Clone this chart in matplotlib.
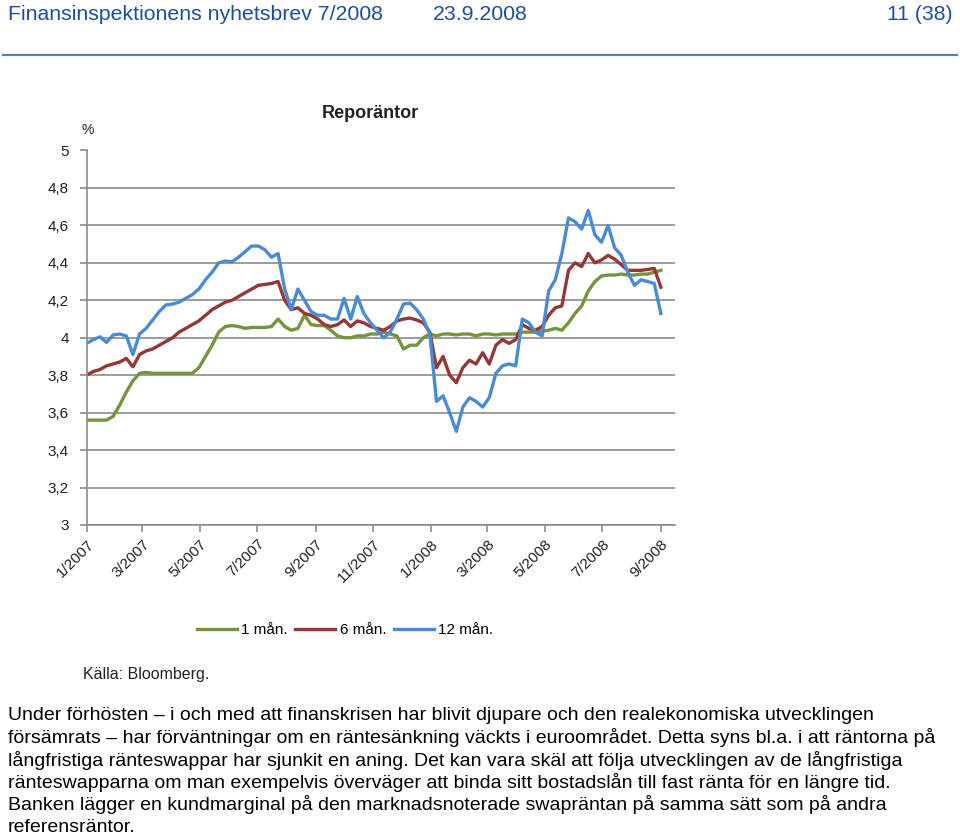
import numpy as np
import pandas as pd
import matplotlib
matplotlib.use("Agg")
import matplotlib.pyplot as plt
import matplotlib.dates as mdates
from matplotlib.ticker import FixedLocator, FuncFormatter

plt.rcParams['font.family'] = ['Liberation Sans', 'DejaVu Sans']

# Veckovisa observationer, jan 2007 - sep 2008
datum = pd.date_range('2007-01-01', periods=88, freq='7D')

man_1 = [3.56, 3.56, 3.56, 3.56, 3.58, 3.64, 3.71, 3.77, 3.81, 3.815,
         3.81, 3.81, 3.81, 3.81, 3.81, 3.81, 3.81, 3.84, 3.90, 3.96,
         4.03, 4.06, 4.065, 4.06, 4.05, 4.055, 4.055, 4.055, 4.06, 4.10,
         4.06, 4.04, 4.05, 4.12, 4.07, 4.065, 4.065, 4.04, 4.01, 4.00,
         4.00, 4.01, 4.01, 4.02, 4.02, 4.03, 4.02, 4.01, 3.94, 3.96,
         3.96, 4.00, 4.02, 4.01, 4.02, 4.02, 4.015, 4.02, 4.02, 4.01,
         4.02, 4.02, 4.015, 4.02, 4.02, 4.02, 4.03, 4.03, 4.03, 4.035,
         4.04, 4.05, 4.04, 4.08, 4.13, 4.17, 4.25, 4.30, 4.33, 4.335,
         4.335, 4.34, 4.335, 4.335, 4.34, 4.34, 4.35, 4.36]

man_6 = [3.80, 3.82, 3.83, 3.85, 3.86, 3.87, 3.89, 3.845, 3.91, 3.93,
         3.94, 3.96, 3.98, 4.00, 4.03, 4.05, 4.07, 4.09, 4.12, 4.15,
         4.17, 4.19, 4.20, 4.22, 4.24, 4.26, 4.28, 4.285, 4.29, 4.30,
         4.20, 4.15, 4.16, 4.13, 4.12, 4.10, 4.07, 4.06, 4.07, 4.095,
         4.06, 4.09, 4.08, 4.06, 4.05, 4.04, 4.06, 4.09, 4.10, 4.105,
         4.095, 4.08, 4.03, 3.84, 3.90, 3.80, 3.76, 3.84, 3.88, 3.86,
         3.92, 3.86, 3.96, 3.99, 3.97, 3.99, 4.07, 4.05, 4.04, 4.06,
         4.12, 4.16, 4.17, 4.36, 4.40, 4.38, 4.45, 4.40, 4.415, 4.44,
         4.42, 4.39, 4.36, 4.36, 4.36, 4.365, 4.37, 4.27]

man_12 = [3.97, 3.99, 4.005, 3.975, 4.015, 4.02, 4.01, 3.91, 4.02, 4.05,
          4.095, 4.14, 4.175, 4.18, 4.19, 4.21, 4.23, 4.26, 4.31, 4.35,
          4.40, 4.41, 4.405, 4.43, 4.46, 4.49, 4.49, 4.47, 4.43, 4.45,
          4.26, 4.15, 4.26, 4.20, 4.14, 4.12, 4.12, 4.10, 4.10, 4.21,
          4.10, 4.22, 4.13, 4.08, 4.04, 4.00, 4.03, 4.10, 4.18, 4.185,
          4.15, 4.10, 4.02, 3.66, 3.69, 3.60, 3.50, 3.63, 3.68, 3.66,
          3.63, 3.68, 3.81, 3.85, 3.86, 3.85, 4.10, 4.08, 4.03, 4.01,
          4.25, 4.31, 4.45, 4.64, 4.62, 4.58, 4.68, 4.55, 4.51, 4.60,
          4.48, 4.44, 4.35, 4.28, 4.31, 4.30, 4.29, 4.13]

y_ticks = [3.0, 3.2, 3.4, 3.6, 3.8, 4.0, 4.2, 4.4, 4.6, 4.8, 5.0]

text_rader = [
    "Under förhösten – i och med att finanskrisen har blivit djupare och den realekonomiska utvecklingen",
    "försämrats – har förväntningar om en räntesänkning väckts i euroområdet. Detta syns bl.a. i att räntorna på",
    "långfristiga ränteswappar har sjunkit en aning. Det kan vara skäl att följa utvecklingen av de långfristiga",
    "ränteswapparna om man exempelvis överväger att binda sitt bostadslån till fast ränta för en längre tid.",
    "Banken lägger en kundmarginal på den marknadsnoterade swapräntan på samma sätt som på andra",
    "referensräntor.",
]

W, H = 960, 835
fig = plt.figure(figsize=(9.6, 8.35), dpi=100)

# Sidhuvud
blue_head = '#1F4E9C'
fig.text(8 / W, 1 - 15 / H, "Finansinspektionens nyhetsbrev 7/2008", color=blue_head,
         fontsize=15.3, va='center', ha='left')
fig.text(433 / W, 1 - 15 / H, "23.9.2008", color=blue_head, fontsize=15.3, va='center', ha='left')
fig.text(953 / W, 1 - 15 / H, "11 (38)", color=blue_head, fontsize=15.3, va='center', ha='right')
fig.add_artist(plt.Line2D([3 / W, 957 / W], [1 - 55 / H, 1 - 55 / H], color='#4F81BD', lw=1.6))

# Diagram
ax = fig.add_axes([86.7 / W, 1 - 525 / H, (675 - 86.7) / W, (525 - 150.5) / H])
ax.plot(datum, man_1, color='#77933C', lw=2.4, label='1 mån.')
ax.plot(datum, man_6, color='#953735', lw=2.4, label='6 mån.')
ax.plot(datum, man_12, color='#4A8BD6', lw=2.4, label='12 mån.')

ax.set_ylim(3, 5)
ax.set_xlim(pd.Timestamp('2007-01-01'), pd.Timestamp('2008-09-16'))
ax.yaxis.set_major_locator(FixedLocator(y_ticks))
ax.yaxis.set_major_formatter(FuncFormatter(lambda v, p: f'{v:g}'.replace('.', ',')))
ax.xaxis.set_major_locator(mdates.MonthLocator(bymonth=[1, 3, 5, 7, 9, 11]))
ax.xaxis.set_major_formatter(FuncFormatter(
    lambda v, p: f'{mdates.num2date(v).month}/{mdates.num2date(v).year}'))

ax.grid(axis='y', color='#8C8C8C', lw=1.2)
ax.set_axisbelow(True)
for s in ['top', 'right']:
    ax.spines[s].set_visible(False)
for s in ['left', 'bottom']:
    ax.spines[s].set_color('#8C8C8C')
    ax.spines[s].set_linewidth(1.2)
ax.tick_params(axis='both', color='#8C8C8C', length=5, width=1.2, labelsize=11, labelcolor='#222222')
ax.tick_params(axis='y', pad=8)
plt.setp(ax.get_xticklabels(), rotation=45, ha='right', rotation_mode='anchor')

fig.text(370 / W, 1 - 113 / H, "Reporäntor", fontsize=13, fontweight='bold', ha='center',
         va='center', color='#222222')
fig.text(88 / W, 1 - 130 / H, "%", fontsize=10, ha='center', va='center', color='#222222')

fig.legend(loc='center', bbox_to_anchor=(345 / W, 1 - 630 / H), ncol=3, frameon=False,
           fontsize=11, handlelength=2.6, columnspacing=0.5, handletextpad=0.3)

fig.text(83 / W, 1 - 675 / H, "Källa: Bloomberg.", fontsize=11.5, ha='left', va='center',
         color='#222222')

# Brödtext
for i, rad in enumerate(text_rader):
    fig.text(8 / W, 1 - (715 + 22.5 * i) / H, rad, fontsize=14, ha='left', va='center',
             color='black')

fig.savefig('out.png', dpi=100)
